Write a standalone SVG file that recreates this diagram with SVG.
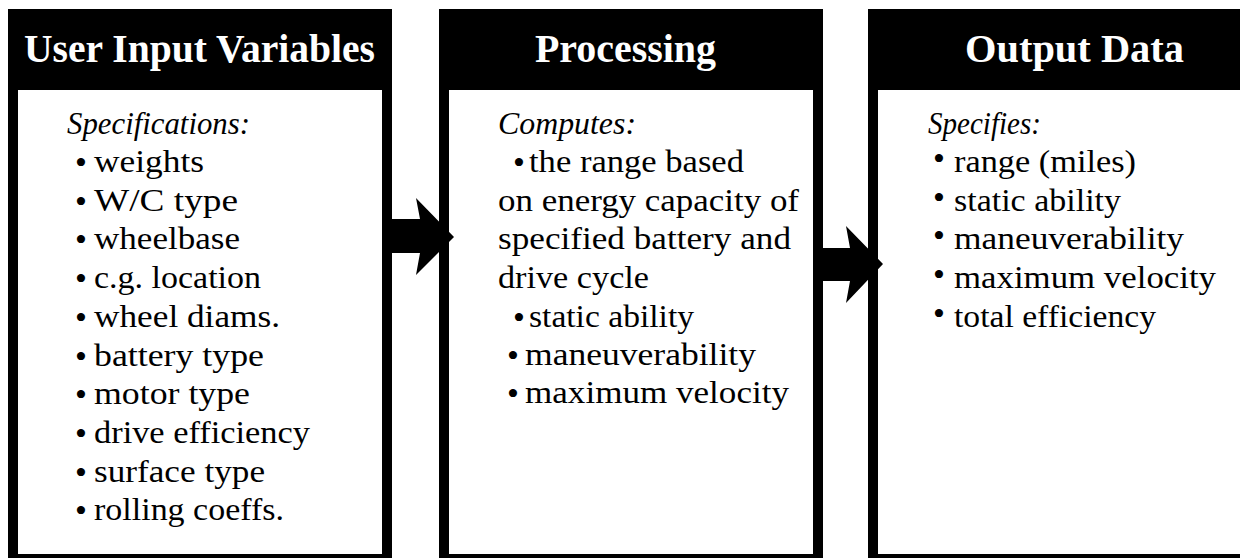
<svg xmlns="http://www.w3.org/2000/svg" width="1240" height="558" viewBox="0 0 1240 558">
  <style>
    .frame { fill: #000; }
    .panel { fill: #fff; }
    .head { font-family: "Liberation Serif", "Times New Roman", serif; font-weight: bold; font-size: 39px; fill: #fff; }
    .lead { font-family: "Liberation Serif", "Times New Roman", serif; font-style: italic; font-size: 32px; fill: #000; }
    .item { font-family: "Liberation Serif", "Times New Roman", serif; font-size: 32px; fill: #000; }
    .dot { font-family: "Liberation Serif", "Times New Roman", serif; font-size: 34px; fill: #000; text-anchor: middle; }
    .arrow { fill: #000; }
  </style>

  <rect width="1240" height="558" fill="#fff"/>

  <!-- Inputs panel -->
  <g id="node-inputs">
    <rect class="frame" x="8" y="9" width="384" height="556"/>
    <rect class="panel" x="18" y="90" width="364" height="464"/>
    <text class="head" x="24" y="62" textLength="351" lengthAdjust="spacingAndGlyphs">User Input Variables</text>
    <text class="lead" x="67" y="134" textLength="183" lengthAdjust="spacingAndGlyphs">Specifications:</text>
    <text class="dot" x="81" y="174">•</text>
    <text class="item" x="94" y="172" textLength="110" lengthAdjust="spacingAndGlyphs">weights</text>
    <text class="dot" x="81" y="213">•</text>
    <text class="item" x="94" y="211" textLength="144" lengthAdjust="spacingAndGlyphs">W/C type</text>
    <text class="dot" x="81" y="251">•</text>
    <text class="item" x="94" y="249" textLength="146" lengthAdjust="spacingAndGlyphs">wheelbase</text>
    <text class="dot" x="81" y="290">•</text>
    <text class="item" x="94" y="288" textLength="167" lengthAdjust="spacingAndGlyphs">c.g. location</text>
    <text class="dot" x="81" y="329">•</text>
    <text class="item" x="94" y="327" textLength="186" lengthAdjust="spacingAndGlyphs">wheel diams.</text>
    <text class="dot" x="81" y="368">•</text>
    <text class="item" x="94" y="366" textLength="170" lengthAdjust="spacingAndGlyphs">battery type</text>
    <text class="dot" x="81" y="406">•</text>
    <text class="item" x="94" y="404" textLength="156" lengthAdjust="spacingAndGlyphs">motor type</text>
    <text class="dot" x="81" y="445">•</text>
    <text class="item" x="94" y="443" textLength="216" lengthAdjust="spacingAndGlyphs">drive efficiency</text>
    <text class="dot" x="81" y="484">•</text>
    <text class="item" x="94" y="482" textLength="171" lengthAdjust="spacingAndGlyphs">surface type</text>
    <text class="dot" x="81" y="522">•</text>
    <text class="item" x="94" y="520" textLength="190" lengthAdjust="spacingAndGlyphs">rolling coeffs.</text>
  </g>

  <!-- Processing panel -->
  <g id="node-processing">
    <rect class="frame" x="439" y="9" width="384" height="556"/>
    <rect class="panel" x="449" y="90" width="364" height="464"/>
    <text class="head" x="535" y="62" textLength="181" lengthAdjust="spacingAndGlyphs">Processing</text>
    <text class="lead" x="498" y="134" textLength="138" lengthAdjust="spacingAndGlyphs">Computes:</text>
    <text class="dot" x="519" y="174">•</text>
    <text class="item" x="529" y="172" textLength="215" lengthAdjust="spacingAndGlyphs">the range based</text>
    <text class="item" x="498" y="211" textLength="301" lengthAdjust="spacingAndGlyphs">on energy capacity of</text>
    <text class="item" x="498" y="249" textLength="293" lengthAdjust="spacingAndGlyphs">specified battery and</text>
    <text class="item" x="498" y="288" textLength="151" lengthAdjust="spacingAndGlyphs">drive cycle</text>
    <text class="dot" x="519" y="329">•</text>
    <text class="item" x="529" y="327" textLength="165" lengthAdjust="spacingAndGlyphs">static ability</text>
    <text class="dot" x="513" y="367">•</text>
    <text class="item" x="525" y="365" textLength="231" lengthAdjust="spacingAndGlyphs">maneuverability</text>
    <text class="dot" x="513" y="405">•</text>
    <text class="item" x="525" y="403" textLength="264" lengthAdjust="spacingAndGlyphs">maximum velocity</text>
  </g>

  <!-- Output panel -->
  <g id="node-output">
    <rect class="frame" x="868" y="9" width="380" height="556"/>
    <rect class="panel" x="878" y="90" width="370" height="464"/>
    <text class="head" x="965" y="62" textLength="219" lengthAdjust="spacingAndGlyphs">Output Data</text>
    <text class="lead" x="928" y="134" textLength="113" lengthAdjust="spacingAndGlyphs">Specifies:</text>
    <text class="dot" x="939" y="170">•</text>
    <text class="item" x="954" y="172" textLength="182" lengthAdjust="spacingAndGlyphs">range (miles)</text>
    <text class="dot" x="939" y="209">•</text>
    <text class="item" x="954" y="211" textLength="167" lengthAdjust="spacingAndGlyphs">static ability</text>
    <text class="dot" x="939" y="247">•</text>
    <text class="item" x="954" y="249" textLength="230" lengthAdjust="spacingAndGlyphs">maneuverability</text>
    <text class="dot" x="939" y="286">•</text>
    <text class="item" x="954" y="288" textLength="262" lengthAdjust="spacingAndGlyphs">maximum velocity</text>
    <text class="dot" x="939" y="325">•</text>
    <text class="item" x="954" y="327" textLength="202" lengthAdjust="spacingAndGlyphs">total efficiency</text>
  </g>

  <!-- Connectors: block arrows between panels -->
  <g id="connectors">
    <polygon class="arrow" points="385,219 420,219 416,198 454,237 416,275 420,253 385,253"/>
    <polygon class="arrow" points="816,248 850,248 846,226 883,264 846,303 850,281 816,281"/>
  </g>
</svg>
